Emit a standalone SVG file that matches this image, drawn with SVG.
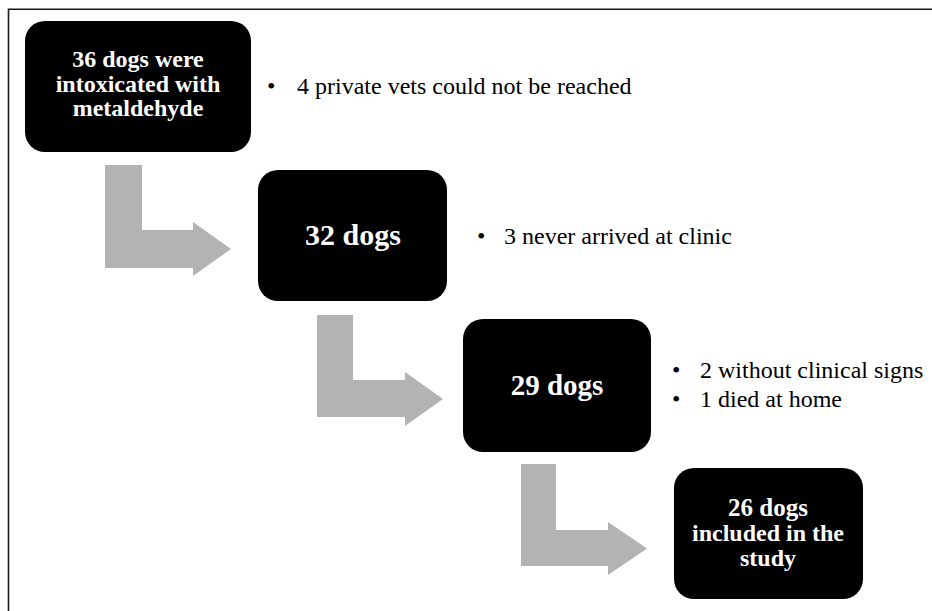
<svg xmlns="http://www.w3.org/2000/svg" width="932" height="611" viewBox="0 0 932 611">
<style>
.box{fill:#000}
.bt{font-family:"Liberation Serif","Times New Roman",serif;font-weight:bold;fill:#fff;text-anchor:middle}
.nt{font-family:"Liberation Serif","Times New Roman",serif;font-size:24px;fill:#000}
.arr{fill:#b3b3b3}
</style>
<rect x="0" y="0" width="932" height="611" fill="#fff"/>
<path d="M8.5 620 V9.2 H940" fill="none" stroke="#1a1a1a" stroke-width="1.6"/>
<g id="connectors">
<path class="arr" d="M105 165 H142 V230 H193 V222 L231 249 L193 276 V268 H105 Z"/>
<path class="arr" d="M317 315 H353 V380 H405 V372 L443 399 L405 426 V417 H317 Z"/>
<path class="arr" d="M521 464 H556 V530 H608 V522 L647 548.5 L608 575 V566 H521 Z"/>
</g>
<g id="n1">
<rect class="box" x="25" y="21" width="226" height="131" rx="20"/>
<text class="bt" font-size="24" x="138" y="67">36 dogs were</text>
<text class="bt" font-size="24" x="138" y="92">intoxicated with</text>
<text class="bt" font-size="24" x="138" y="116">metaldehyde</text>
</g>
<g id="note1">
<text class="nt" x="267" y="94">•</text>
<text class="nt" x="297" y="94">4 private vets could not be reached</text>
</g>
<g id="n2">
<rect class="box" x="258" y="170" width="189" height="131" rx="20"/>
<text class="bt" font-size="30" x="353" y="245">32 dogs</text>
</g>
<g id="note2">
<text class="nt" x="477" y="244" font-size="25">•</text>
<text class="nt" x="504" y="244" font-size="25">3 never arrived at clinic</text>
</g>
<g id="n3">
<rect class="box" x="463" y="319" width="188" height="133" rx="20"/>
<text class="bt" font-size="29" x="557" y="395">29 dogs</text>
</g>
<g id="note3">
<text class="nt" x="672" y="378">•</text>
<text class="nt" x="700" y="378">2 without clinical signs</text>
<text class="nt" x="672" y="407">•</text>
<text class="nt" x="700" y="407">1 died at home</text>
</g>
<g id="n4">
<rect class="box" x="674" y="468" width="189" height="131" rx="20"/>
<text class="bt" font-size="25" x="768" y="516">26 dogs</text>
<text class="bt" font-size="24" x="768" y="541">included in the</text>
<text class="bt" font-size="24" x="768" y="566">study</text>
</g>
</svg>
